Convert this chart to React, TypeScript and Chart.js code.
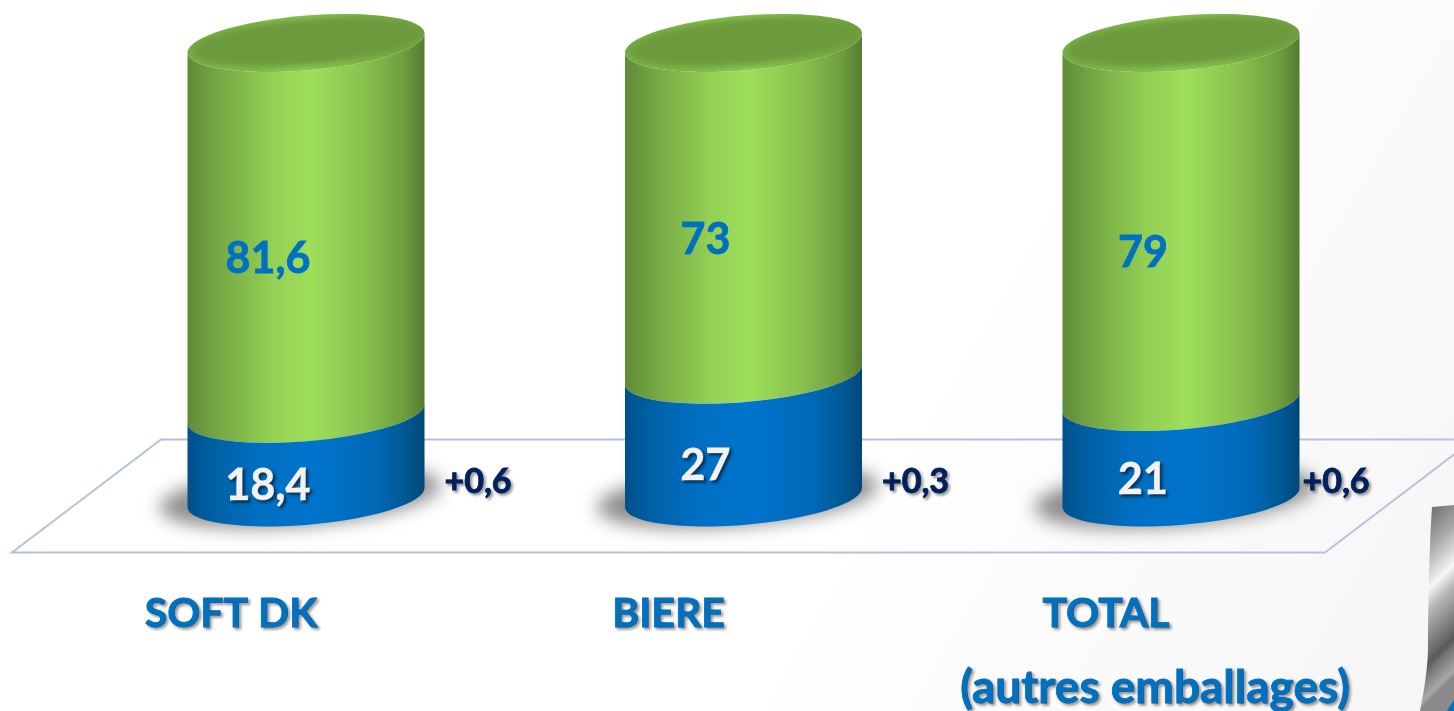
import React, { useEffect, useRef } from "react";
import { Chart, registerables } from "chart.js";

Chart.register(...registerables);

const categories = ["SOFT DK", "BIERE", "TOTAL"];
const categoryNotes = ["", "", "(autres emballages)"];
const blueValues = [18.4, 27, 21];
const greenValues = [81.6, 73, 79];
const blueLabels = ["18,4", "27", "21"];
const greenLabels = ["81,6", "73", "79"];
const deltaLabels = ["+0,6", "+0,3", "+0,6"];

const FONT = "Lato, Carlito, Calibri, sans-serif";
const SHEAR = 0.0805;
const RY = 27.4;

function ellipsePath(ctx: CanvasRenderingContext2D, cx: number, cy: number, a: number, b: number) {
  ctx.save();
  ctx.transform(1, -SHEAR, 0, 1, cx, cy);
  ctx.beginPath();
  ctx.ellipse(0, 0, a, b, 0, 0, Math.PI * 2);
  ctx.restore();
}

function bodyPath(ctx: CanvasRenderingContext2D, cx: number, a: number, yTop: number, yBottom: number) {
  ctx.save();
  ctx.beginPath();
  ctx.transform(1, -SHEAR, 0, 1, cx, yBottom);
  ctx.ellipse(0, 0, a, RY, 0, Math.PI, 0, true);
  ctx.lineTo(a, yTop - yBottom);
  ctx.ellipse(0, yTop - yBottom, a, RY, 0, 0, Math.PI, false);
  ctx.closePath();
  ctx.restore();
}

function sideGradient(ctx: CanvasRenderingContext2D, left: number, right: number, stops: [number, string][]) {
  const g = ctx.createLinearGradient(left, 0, right, 0);
  stops.forEach(([p, c]) => g.addColorStop(p, c));
  return g;
}

const cylinderPlugin = {
  id: "cylinders",
  beforeDatasetsDraw(chart: any) {
    chart.ctx.shadowColor = "transparent";
    chart.ctx.shadowBlur = 0;
    chart.ctx.shadowOffsetX = 0;
    chart.ctx.shadowOffsetY = 0;
  },
  beforeDatasetDraw(chart: any, args: any) {
    const ctx: CanvasRenderingContext2D = chart.ctx;
    const elements = chart.getDatasetMeta(args.index).data;
    elements.forEach((bar: any) => {
      const a = bar.width / 2;
      const left = bar.x - a;
      const right = bar.x + a;
      const bottom = bar.base;
      const top = bar.y;
      ctx.save();
      if (args.index === 0) {
        ctx.filter = "blur(9px)";
        ctx.fillStyle = "rgba(70,70,70,0.62)";
        ellipsePath(ctx, bar.x - 6, bottom - 1, a + 22, RY + 2);
        ctx.fill();
        ctx.filter = "none";
        bodyPath(ctx, bar.x, a, top, bottom);
        ctx.fillStyle = sideGradient(ctx, left, right, [
          [0, "#00508a"],
          [0.1, "#005fa3"],
          [0.3, "#006fc2"],
          [0.55, "#0074cc"],
          [0.8, "#0068b5"],
          [0.93, "#005792"],
          [1, "#004778"],
        ]);
        ctx.fill();
      } else {
        bodyPath(ctx, bar.x, a, top, bottom);
        ctx.fillStyle = sideGradient(ctx, left, right, [
          [0, "#5f8a38"],
          [0.12, "#74a644"],
          [0.35, "#92cf53"],
          [0.52, "#9edf5a"],
          [0.75, "#88c04d"],
          [0.92, "#6d9c3f"],
          [1, "#557a30"],
        ]);
        ctx.fill();
        // top cap with bevelled rim
        ellipsePath(ctx, bar.x, top, a, RY);
        ctx.fillStyle = sideGradient(ctx, left, right, [
          [0, "#76ad42"],
          [0.5, "#8ccb50"],
          [1, "#6f9f3f"],
        ]);
        ctx.fill();
        ctx.save();
        ellipsePath(ctx, bar.x, top, a, RY);
        ctx.clip();
        ctx.filter = "blur(3px)";
        ellipsePath(ctx, bar.x, top - 1, a - 5, RY - 4);
        ctx.fillStyle = "#6d9a3d";
        ctx.fill();
        ctx.restore();
      }
      ctx.restore();
    });
    return false;
  },
  afterDatasetsDraw(chart: any) {
    const ctx: CanvasRenderingContext2D = chart.ctx;
    const draw = (text: string, x: number, y: number, size: number, color: string, shadow: string) => {
      ctx.save();
      ctx.font = `bold ${size}px ${FONT}`;
      ctx.textAlign = "center";
      ctx.textBaseline = "middle";
      ctx.shadowColor = shadow;
      ctx.shadowBlur = 3;
      ctx.shadowOffsetX = 2;
      ctx.shadowOffsetY = 2;
      ctx.fillStyle = color;
      ctx.strokeStyle = color;
      ctx.lineWidth = 0.8;
      ctx.strokeText(text, x, y);
      ctx.fillText(text, x, y);
      ctx.restore();
    };
    const blue = chart.getDatasetMeta(0).data;
    const green = chart.getDatasetMeta(1).data;
    const deltaNudge = [172, 172, 155];
    blue.forEach((bar: any, i: number) => {
      draw(blueLabels[i], bar.x - 38, (bar.y + bar.base) / 2 + 30, 43, "#f2f2f2", "rgba(0,0,0,0.55)");
      draw(deltaLabels[i], bar.x + deltaNudge[i], chart.scales.y.getPixelForValue(3.3), 34, "#002060", "rgba(0,0,0,0.4)");
      if (categoryNotes[i]) {
        draw(categoryNotes[i], bar.x - 26, 688, 46, "#0070c0", "rgba(0,0,0,0.4)");
      }
    });
    green.forEach((bar: any, i: number) => {
      draw(greenLabels[i], bar.x - 38, (bar.y + bar.base) / 2 + 31, 43, "#0070c0", "rgba(0,0,0,0)");
    });
  },
  beforeDraw(chart: any) {
    const ctx: CanvasRenderingContext2D = chart.ctx;
    const W = chart.width;
    const H = chart.height;
    ctx.save();
    // page background
    const bg = ctx.createLinearGradient(W * 0.62, H * 0.55, W, H);
    bg.addColorStop(0, "#ffffff");
    bg.addColorStop(1, "#f5f5f5");
    ctx.fillStyle = bg;
    ctx.fillRect(0, 0, W, H);
    // floor plane
    ctx.strokeStyle = "#b4c3dc";
    ctx.lineWidth = 2;
    ctx.beginPath();
    ctx.moveTo(W + 2, 439.5);
    ctx.lineTo(161, 439.5);
    ctx.lineTo(12, 552.5);
    ctx.lineTo(1325, 552.5);
    ctx.lineTo(W + 2, 453);
    ctx.stroke();
    // curl in the corner of the slide
    ctx.beginPath();
    ctx.moveTo(W, 505);
    ctx.lineTo(1432, 507);
    ctx.bezierCurveTo(1429, 550, 1428, 620, 1428, 650);
    ctx.bezierCurveTo(1427, 675, 1424, 690, 1420, 711);
    ctx.lineTo(W, 711);
    ctx.closePath();
    const curl = ctx.createLinearGradient(1440, 500, 1535, 595);
    [
      [0, "#737373"],
      [0.2, "#a8a8a8"],
      [0.41, "#f5f5f5"],
      [0.52, "#b8b8b8"],
      [0.8, "#5a5a5a"],
      [0.85, "#787878"],
      [0.97, "#a8a8a8"],
      [1, "#8a8a8a"],
    ].forEach(([p, c]) => curl.addColorStop(p as number, c as string));
    ctx.fillStyle = curl;
    ctx.fill();
    ctx.beginPath();
    ctx.moveTo(1447, 711);
    ctx.lineTo(W, 700);
    ctx.lineTo(W, 711);
    ctx.closePath();
    ctx.fillStyle = "#0070c0";
    ctx.fill();
    ctx.restore();
    // shadow for the category labels drawn with the axis
    ctx.shadowColor = "rgba(0,0,0,0.4)";
    ctx.shadowBlur = 3;
    ctx.shadowOffsetX = 2;
    ctx.shadowOffsetY = 2;
  },
};

export default function App() {
  const ref = useRef<HTMLCanvasElement>(null);
  useEffect(() => {
    document.body.style.margin = "0";
    const chart = new Chart(ref.current!, {
      type: "bar",
      data: {
        labels: categories,
        datasets: [
          { label: "Blue", data: blueValues, backgroundColor: "#0070c0" },
          { label: "Green", data: greenValues, backgroundColor: "#92d050" },
        ],
      },
      options: {
        responsive: false,
        animation: false,
        barPercentage: 237 / 437.5,
        categoryPercentage: 1,
        layout: { padding: { left: 87.25, right: 54.25, top: 43, bottom: 0 } },
        plugins: { legend: { display: false }, tooltip: { enabled: false } },
        scales: {
          x: {
            stacked: true,
            grid: { display: false },
            border: { display: false },
            afterFit: (s: any) => {
              s.height = 213.5;
            },
            ticks: {
              padding: 84,
              maxRotation: 0,
              autoSkip: false,
              labelOffset: -75,
              color: "#0070c0",
              textStrokeColor: "#0070c0",
              textStrokeWidth: 0.8,
              font: { family: FONT, size: 41, weight: "bold" },
            },
          },
          y: { stacked: true, display: false, min: 0, max: 100 },
        },
      },
      plugins: [cylinderPlugin],
    } as any);
    return () => chart.destroy();
  }, []);
  return <canvas ref={ref} width={1454} height={711} style={{ display: "block" }} />;
}
